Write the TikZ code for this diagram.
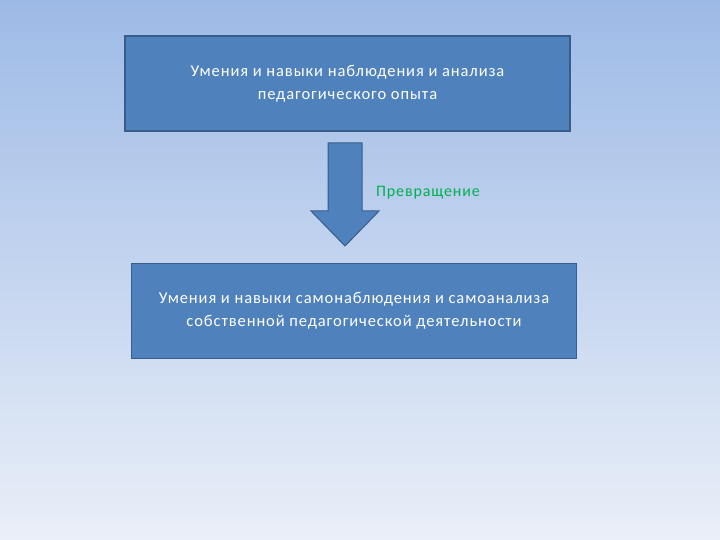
\documentclass[tikz,border=0pt]{standalone}
\usepackage{fontspec}
\setmainfont{Carlito}[LetterSpace=5.5]
\usetikzlibrary{positioning}

\definecolor{boxblue}{HTML}{4F81BD}
\definecolor{boxedge}{HTML}{385D8A}
\definecolor{bgtop}{HTML}{9DBAE6}
\definecolor{bgbottom}{HTML}{EAEFF8}
\definecolor{labelgreen}{HTML}{00B050}

\tikzset{
  box/.style={draw=boxedge, line width=1.5pt, fill=boxblue, text=white,
    minimum width=445pt, minimum height=95pt, align=center,
    font=\fontsize{16.5}{23}\selectfont}
}

\begin{document}
\begin{tikzpicture}[x=1pt,y=-1pt]

\def \shafthalf {17}
\def \headhalf {34}
\def \headtop {211}
\def \tip {246}

\fill[top color=bgtop, bottom color=bgbottom] (0,0) rectangle (720,540);
\useasboundingbox (0,0) rectangle (720,540);

\node (skills) [box] at (347.5,83.5) {Умения и навыки наблюдения и анализа\\педагогического опыта};
\node (selfskills) [box] at (354,311) {Умения и навыки самонаблюдения и самоанализа\\собственной педагогической деятельности};

\draw[boxedge, line width=1pt, fill=boxblue, line join=miter]
  ({345 - \shafthalf},143) -- ({345 + \shafthalf},143) -- ({345 + \shafthalf},\headtop)
  -- ({345 + \headhalf},\headtop) -- (345,\tip) -- ({345 - \headhalf},\headtop)
  -- ({345 - \shafthalf},\headtop) -- cycle;

\node (turn) [text=labelgreen, font=\fontsize{16}{18}\selectfont] at (428,193) {Превращение};

\end{tikzpicture}
\end{document}
